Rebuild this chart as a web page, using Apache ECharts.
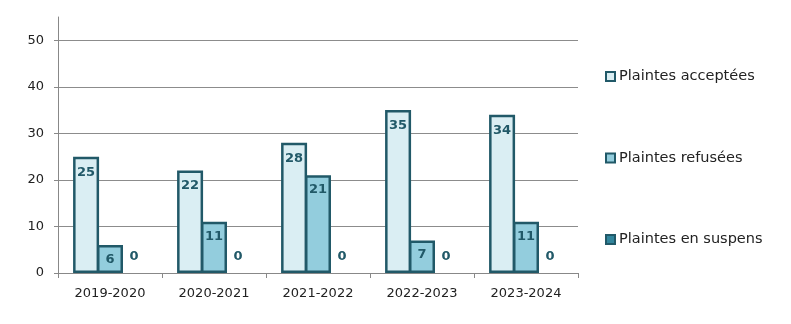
<!DOCTYPE html>
<html>
<head>
<meta charset="utf-8">
<script src="https://cdn.jsdelivr.net/npm/echarts@6/dist/echarts.min.js"></script>
<style>html,body{margin:0;padding:0;background:#fff;}#c{width:791px;height:324px;}</style>
</head>
<body>
<div id="c"></div>
<script>
const categories = ['2019-2020', '2020-2021', '2021-2022', '2022-2023', '2023-2024'];
const acceptees = [25, 22, 28, 35, 34];
const refusees = [6, 11, 21, 7, 11];
const suspens = [0, 0, 0, 0, 0];
const seriesNames = ['Plaintes acceptées', 'Plaintes refusées', 'Plaintes en suspens'];

const FONT = 'DejaVu Sans';
const BORDER = '#215968';
const chart = echarts.init(document.getElementById('c'));
const labelStyle = { show: true, color: BORDER, fontFamily: FONT, fontWeight: 'bold', fontSize: 13 };
chart.setOption({
  animation: false,
  grid: { left: 58, right: 213, top: 17, bottom: 51 },
  legend: {
    orient: 'vertical', left: 600, top: 64,
    itemWidth: 9, itemHeight: 9, itemGap: 66.5, icon: 'rect',
    textStyle: { fontFamily: FONT, fontSize: 14.5, color: '#222', padding: [0, 0, 0, -1] },
    data: [
      { name: seriesNames[0], itemStyle: { color: '#DAEEF3', borderColor: BORDER, borderWidth: 2 } },
      { name: seriesNames[1], itemStyle: { color: '#93CDDD', borderColor: BORDER, borderWidth: 2 } },
      { name: seriesNames[2], itemStyle: { color: '#31859C', borderColor: BORDER, borderWidth: 2 } }
    ]
  },
  xAxis: {
    type: 'category', data: categories,
    axisLine: { lineStyle: { color: '#888', width: 1 } },
    axisTick: { show: true, length: 5, lineStyle: { color: '#888' } },
    axisLabel: { fontFamily: FONT, fontSize: 13, color: '#222', margin: 14 }
  },
  yAxis: {
    type: 'value', min: 0, max: 55, interval: 10,
    axisLine: { show: true, lineStyle: { color: '#888', width: 1 } },
    axisTick: { show: true, length: 4, lineStyle: { color: '#888' } },
    axisLabel: { fontFamily: FONT, fontSize: 13, color: '#222', margin: 14, showMaxLabel: false },
    splitLine: { show: true, showMaxLine: false, lineStyle: { color: '#8c8c8c', width: 1 } }
  },
  series: [
    { name: seriesNames[0], type: 'bar', data: acceptees, barWidth: 26, barGap: '-8%',
      itemStyle: { color: '#DAEEF3', borderColor: BORDER, borderWidth: 2.5 },
      label: Object.assign({ position: 'insideTop', distance: 9 }, labelStyle) },
    { name: seriesNames[1], type: 'bar', data: refusees, barWidth: 26, barGap: '-8%',
      itemStyle: { color: '#93CDDD', borderColor: BORDER, borderWidth: 2.5 },
      label: Object.assign({ position: 'insideTop', distance: 8 }, labelStyle) },
    { name: seriesNames[2], type: 'bar', data: suspens, barWidth: 26, barGap: '-8%',
      itemStyle: { color: '#31859C', borderColor: BORDER, borderWidth: 0 },
      label: Object.assign({ position: 'top', distance: 10 }, labelStyle) }
  ]
});
</script>
</body>
</html>
